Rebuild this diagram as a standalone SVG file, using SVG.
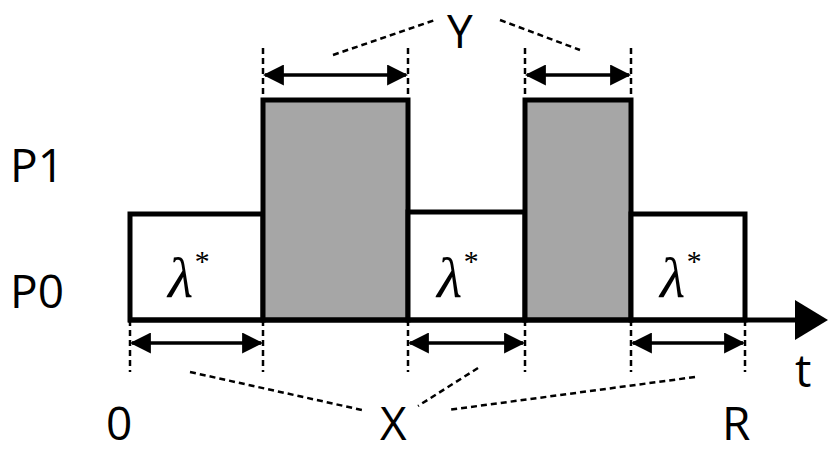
<svg xmlns="http://www.w3.org/2000/svg" width="830" height="456" viewBox="0 0 830 456">
<style>
.t{font-family:"Open Sans","Liberation Sans",Arial,sans-serif;font-size:46px;fill:#000}
.l{font-family:"Liberation Serif","Times New Roman",serif;font-style:italic;font-size:58px;fill:#000}
.s{font-family:"Liberation Serif",serif;font-size:30px}
.b{stroke:#000;stroke-width:5}
.d{stroke:#000;stroke-width:2.5;stroke-dasharray:6,4;fill:none}
.a{stroke:#000;stroke-width:3.5;marker-start:url(#h);marker-end:url(#h)}
</style>
<defs><marker id="h" viewBox="0 0 10 10" refX="9" refY="5" markerWidth="6" markerHeight="6" orient="auto-start-reverse"><path d="M0,0L10,5L0,10z"/></marker></defs>
<rect width="830" height="456" fill="#fff"/>
<g id="boxes">
<rect class="b" x="130" y="214" width="133" height="106" fill="#fff"/>
<rect class="b" x="263" y="100" width="145" height="220" fill="#a6a6a6"/>
<rect class="b" x="408" y="212" width="117" height="108" fill="#fff"/>
<rect class="b" x="525" y="100" width="106" height="220" fill="#a6a6a6"/>
<rect class="b" x="631" y="214" width="114" height="106" fill="#fff"/>
</g>
<g id="labels">
<text class="l" x="168" y="297">λ<tspan class="s" dy="-26">*</tspan></text>
<text class="l" x="437" y="297">λ<tspan class="s" dy="-26">*</tspan></text>
<text class="l" x="660" y="297">λ<tspan class="s" dy="-26">*</tspan></text>
<text class="t" x="10" y="182">P1</text>
<text class="t" x="10" y="308">P0</text>
<text class="t" x="106" y="440">0</text>
<text class="t" x="722" y="440">R</text>
<text class="t" x="795" y="387">t</text>
<text class="t" x="447" y="48">Y</text>
<text class="t" x="380" y="440">X</text>
</g>
<g id="connectors">
<line x1="128" y1="320" x2="805" y2="320" stroke="#000" stroke-width="5"/>
<path d="M795,300L828,320L795,340z"/>
<g class="d">
<line x1="130" y1="320" x2="130" y2="372"/><line x1="263" y1="320" x2="263" y2="372"/>
<line x1="408" y1="320" x2="408" y2="372"/><line x1="525" y1="320" x2="525" y2="372"/>
<line x1="631" y1="320" x2="631" y2="372"/><line x1="745" y1="320" x2="745" y2="372"/>
<line x1="263" y1="48" x2="263" y2="100"/><line x1="408" y1="48" x2="408" y2="100"/>
<line x1="525" y1="48" x2="525" y2="100"/><line x1="631" y1="48" x2="631" y2="100"/>
<line x1="333" y1="55" x2="435" y2="20"/><line x1="500" y1="20" x2="580" y2="50"/>
<line x1="190" y1="372" x2="362" y2="410"/><line x1="478" y1="368" x2="418" y2="406"/>
<line x1="695" y1="377" x2="448" y2="410"/>
</g>
<line class="a" x1="132" y1="343" x2="261" y2="343"/>
<line class="a" x1="410" y1="343" x2="523" y2="343"/>
<line class="a" x1="633" y1="343" x2="743" y2="343"/>
<line class="a" x1="265" y1="75" x2="406" y2="75"/>
<line class="a" x1="527" y1="75" x2="629" y2="75"/>
</g>
</svg>
